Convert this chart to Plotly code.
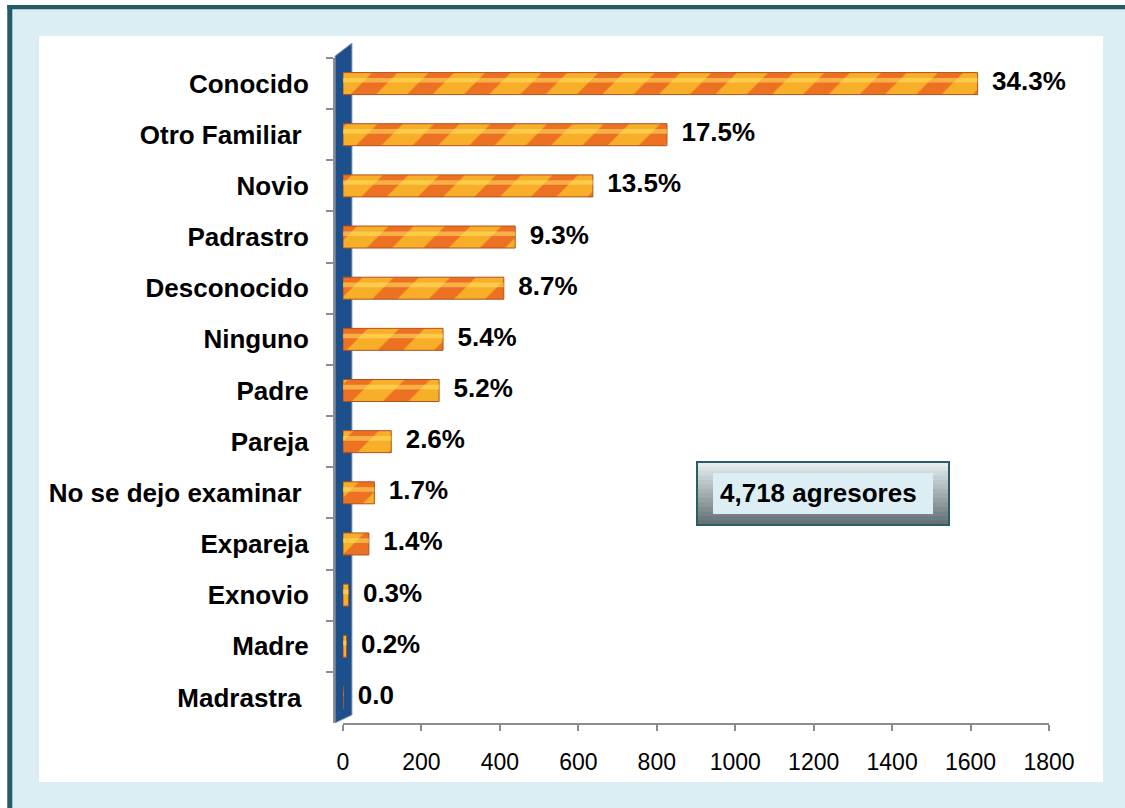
import plotly.graph_objects as go

# ---- data ----
categories = ["Conocido", "Otro Familiar\u00a0", "Novio", "Padrastro", "Desconocido",
              "Ninguno", "Padre", "Pareja", "No se dejo examinar\u00a0", "Expareja",
              "Exnovio", "Madre", "Madrastra\u00a0"]
counts = [1618, 826, 637, 439, 410, 255, 245, 123, 80, 66, 14, 9, 1]
pct_labels = ["34.3%", "17.5%", "13.5%", "9.3%", "8.7%", "5.4%", "5.2%", "2.6%",
              "1.7%", "1.4%", "0.3%", "0.2%", "0.0"]
x_ticks = [0, 200, 400, 600, 800, 1000, 1200, 1400, 1600, 1800]
total_text = "4,718 agresores"

W, H = 1125, 808
# plot-area edges in page pixels
PL, PR, PT, PB = 334, 1049, 58, 723
ML, MT, MR, MB = PL, PT, W - PR, H - PB
PW, PH = W - ML - MR, H - MT - MB

def px(x):
    return (x - PL) / PW

def py(y):
    return (PB - y) / PH

def rect(x0, y0, x1, y1, fill, layer="below", line=None):
    return dict(type="rect", xref="paper", yref="paper", layer=layer,
                x0=px(x0), x1=px(x1), y0=py(y1), y1=py(y0),
                fillcolor=fill, line=line or dict(width=0))

FONT = "Liberation Sans, Arial, sans-serif"
n = len(categories)

fig = go.Figure()
fig.add_trace(go.Bar(
    y=categories, x=counts, orientation="h", width=0.43,
    marker=dict(
        color="#F5A524",
        line=dict(color="#B0521C", width=1),
        pattern=dict(shape="/", fgcolor="#E4331B", bgcolor="#F7AE28", size=40, solidity=0.45),
    ),
    hoverinfo="skip",
))
# highlight along the cylinder
fig.add_trace(go.Bar(
    y=categories, x=counts, orientation="h", width=0.09, offset=-0.11,
    marker=dict(color="rgba(255,228,100,0.55)", line=dict(width=0)),
    hoverinfo="skip",
))
# value labels
fig.add_trace(go.Scatter(
    y=categories, x=counts, mode="text",
    text=["\u00a0\u00a0" + t for t in pct_labels], textposition="middle right",
    textfont=dict(family=FONT, size=26, color="black", weight="bold"),
    cliponaxis=False, hoverinfo="skip",
))

shapes = []
# white strips outside the frame
shapes.append(rect(0, 0, W, 5, "white"))
shapes.append(rect(0, 0, 7.3, H, "white"))
# frame border (top and left)
shapes.append(rect(7.3, 5, W, 9.3, "#235B67"))
shapes.append(rect(7.3, 5, 12.3, H, "#235B67"))
# white inner panel
shapes.append(rect(39, 36, 1103, 782, "white"))
# 3D wall
wall = "M {a},{b} L {a},{c} L {d},{e} L {d},{f} Z".format(
    a=px(335), b=py(723), c=py(56), d=px(352), e=py(43), f=py(715))
shapes.append(dict(type="path", xref="paper", yref="paper", layer="below",
                   path=wall, fillcolor="#1D4F8C", line=dict(color="#9AA7B5", width=1)))
# annotation box with gradient-like fill
bx0, bx1, by0, by1 = 697, 949, 462, 525
nstrip = 14
for i in range(nstrip):
    t = i / (nstrip - 1)
    c0 = (228, 236, 238)
    c1 = (100, 114, 117)
    col = "rgb({},{},{})".format(*[int(c0[k] + (c1[k] - c0[k]) * t) for k in range(3)])
    ya = by0 + (by1 - by0) * i / nstrip
    yb = by0 + (by1 - by0) * (i + 1) / nstrip
    shapes.append(rect(bx0, ya, bx1, yb + 0.5, col, layer="above"))
shapes.append(rect(bx0, by0, bx1, by1, "rgba(0,0,0,0)", layer="above",
                   line=dict(color="#2B5D69", width=2)))
shapes.append(rect(713, 473, 933, 514, "#DCEEF4", layer="above"))

fig.update_layout(
    width=W, height=H,
    margin=dict(l=ML, r=MR, t=MT, b=MB, pad=0),
    paper_bgcolor="#DCEEF4", plot_bgcolor="rgba(0,0,0,0)",
    showlegend=False, barmode="overlay",
    font=dict(family=FONT, color="black"),
    shapes=shapes,
    annotations=[dict(xref="paper", yref="paper", x=px(818), y=py(493),
                      xanchor="center", yanchor="middle",
                      text=total_text, showarrow=False,
                      font=dict(family=FONT, size=26, color="black", weight="bold"))],
    xaxis=dict(domain=[px(343), 1], range=[0, 1800], tickvals=x_ticks,
               showgrid=False, zeroline=False, showline=True, linecolor="#8C8C8C", linewidth=2,
               ticks="outside", ticklen=6, tickwidth=2, tickcolor="#8C8C8C",
               tickfont=dict(family=FONT, size=23, color="black"), ticklabelstandoff=11,
               fixedrange=True),
    yaxis=dict(anchor="free", position=0, categoryorder="array", categoryarray=categories,
               range=[n - 0.5, -0.5], showgrid=False, zeroline=False,
               showline=True, linecolor="#8C8C8C", linewidth=2,
               ticks="outside", tickson="boundaries", ticklen=7, tickwidth=2, tickcolor="#8C8C8C",
               tickfont=dict(family=FONT, size=26, color="black", weight="bold"),
               ticklabelstandoff=19, fixedrange=True),
)

fig.write_html("out.html", config={"displayModeBar": False},
               post_script=("document.documentElement.style.overflow='hidden';"
                            "document.body.style.margin='0';document.body.style.overflow='hidden';"))
